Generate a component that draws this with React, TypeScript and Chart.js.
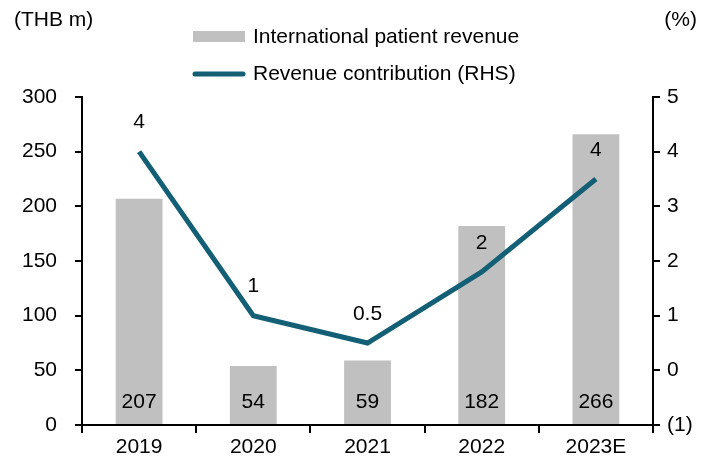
import React, { useEffect, useRef } from "react";
import { Chart, registerables } from "chart.js";

Chart.register(...registerables);

const categories = ["2019", "2020", "2021", "2022", "2023E"];
const revenue = [207, 54, 59, 182, 266];
const contribution = [4.0, 1.0, 0.5, 1.8, 3.5];
const contributionLabels = ["4", "1", "0.5", "2", "4"];
const leftTicks = { min: 0, max: 300, step: 50 };
const rightTicks = { min: -1, max: 5, step: 1 };

const BAR_COLOR = "#c0c0c0";
const LINE_COLOR = "#135f75";
const FONT = "'Liberation Sans', Arial, sans-serif";
const FS = 21;

const overlayPlugin = {
  id: "overlay",
  afterDatasetsDraw(chart: any) {
    const ctx = chart.ctx;
    ctx.save();
    ctx.font = `${FS}px ${FONT}`;
    ctx.fillStyle = "#000";
    ctx.textAlign = "center";
    ctx.textBaseline = "middle";
    const barMeta = chart.getDatasetMeta(0);
    const yScale = chart.scales.y;
    barMeta.data.forEach((el: any, i: number) => {
      ctx.fillText(String(revenue[i]), el.x, yScale.bottom - 23);
    });
    const lineMeta = chart.getDatasetMeta(1);
    lineMeta.data.forEach((el: any, i: number) => {
      ctx.fillText(contributionLabels[i], el.x, el.y - 29);
    });
    ctx.restore();
  },
  afterDraw(chart: any) {
    const ctx = chart.ctx;
    ctx.save();
    ctx.font = `${FS}px ${FONT}`;
    ctx.fillStyle = "#000";
    ctx.textBaseline = "middle";
    ctx.textAlign = "left";
    ctx.fillText("(THB m)", 14, 20);
    ctx.textAlign = "right";
    ctx.fillText("(%)", 697, 20);
    ctx.textAlign = "left";
    ctx.fillStyle = BAR_COLOR;
    ctx.fillRect(193, 31, 52, 11);
    ctx.strokeStyle = LINE_COLOR;
    ctx.lineWidth = 5;
    ctx.lineCap = "round";
    ctx.beginPath();
    ctx.moveTo(195, 74);
    ctx.lineTo(243, 74);
    ctx.stroke();
    ctx.fillStyle = "#000";
    ctx.fillText(chart.data.datasets[0].label, 253, 37);
    ctx.fillText(chart.data.datasets[1].label, 253, 74);
    ctx.restore();
  },
};

export default function App() {
  const ref = useRef<HTMLCanvasElement>(null);
  useEffect(() => {
    document.body.style.margin = "0";
    const canvas = ref.current!;
    const chart = new Chart(canvas, {
      type: "bar",
      data: {
        labels: categories,
        datasets: [
          {
            type: "bar",
            label: "International patient revenue",
            data: revenue,
            backgroundColor: BAR_COLOR,
            barPercentage: 0.41,
            categoryPercentage: 1,
            yAxisID: "y",
            order: 2,
          },
          {
            type: "line",
            label: "Revenue contribution (RHS)",
            data: contribution,
            borderColor: LINE_COLOR,
            borderWidth: 5,
            pointRadius: 0,
            tension: 0,
            yAxisID: "y1",
            order: 1,
          } as any,
        ],
      },
      options: {
        responsive: false,
        animation: false,
        layout: { padding: { top: 97, left: 0, right: 0, bottom: 0 } },
        plugins: { legend: { display: false }, tooltip: { enabled: false } },
        scales: {
          x: {
            offset: true,
            grid: {
              offset: true,
              drawOnChartArea: false,
              drawTicks: true,
              tickLength: 8,
              color: "#000",
              lineWidth: 2,
            },
            border: { display: true, color: "#000", width: 2 },
            ticks: { color: "#000", font: { size: FS, family: FONT }, padding: 2 },
            afterFit: (s: any) => {
              s.height = 36;
            },
          },
          y: {
            position: "left",
            min: leftTicks.min,
            max: leftTicks.max,
            ticks: {
              stepSize: leftTicks.step,
              color: "#000",
              font: { size: FS, family: FONT },
              padding: 18,
            },
            grid: {
              drawOnChartArea: false,
              drawTicks: true,
              tickLength: 7,
              color: "#000",
              lineWidth: 2,
            },
            border: { display: true, color: "#000", width: 2 },
            afterFit: (s: any) => {
              s.width = 82;
            },
          },
          y1: {
            position: "right",
            min: rightTicks.min,
            max: rightTicks.max,
            ticks: {
              stepSize: rightTicks.step,
              color: "#000",
              font: { size: FS, family: FONT },
              padding: 7,
              callback: (v: any) => (v < 0 ? `(${-v})` : String(v)),
            },
            grid: {
              drawOnChartArea: false,
              drawTicks: true,
              tickLength: 7,
              color: "#000",
              lineWidth: 2,
            },
            border: { display: true, color: "#000", width: 2 },
            afterFit: (s: any) => {
              s.width = 56;
            },
          },
        },
      },
      plugins: [overlayPlugin],
    });
    return () => chart.destroy();
  }, []);
  return <canvas ref={ref} width={709} height={461} style={{ display: "block" }} />;
}
